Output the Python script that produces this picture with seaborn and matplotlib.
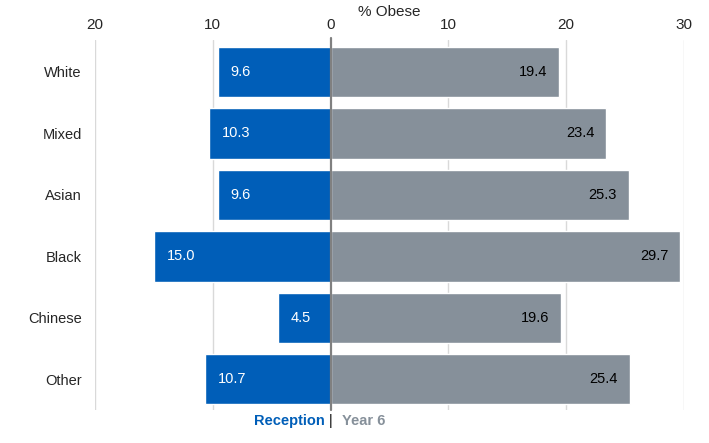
import numpy as np
import pandas as pd
import seaborn as sns
import matplotlib

matplotlib.use('Agg')
import matplotlib.pyplot as plt

groups = ['White', 'Mixed', 'Asian', 'Black', 'Chinese', 'Other']
reception = [9.6, 10.3, 9.6, 15.0, 4.5, 10.7]
year6 = [19.4, 23.4, 25.3, 29.7, 19.6, 25.4]
ticks = [-20, -10, 0, 10, 20, 30]

blue = '#005EB8'
grey = '#86909A'

sns.set_style('white')
plt.rcParams['font.family'] = ['Liberation Sans', 'DejaVu Sans']

df = pd.DataFrame({'group': groups,
                   'reception': [-v for v in reception],
                   'year6': year6})

fig = plt.figure(figsize=(7.09, 4.43), dpi=100)
ax = fig.add_axes([95 / 709, 1 - 410 / 443, (684 - 95) / 709, 370 / 443])

for x in ticks:
    if x != 0:
        ax.axvline(x, color='#d9d9d9', lw=1, zorder=0)

sns.barplot(data=df, y='group', x='reception', color=blue, width=0.82,
            saturation=1, ax=ax, zorder=2)
sns.barplot(data=df, y='group', x='year6', color=grey, width=0.82,
            saturation=1, ax=ax, zorder=2)

ax.axvline(0, color='#808080', lw=1.6, zorder=3, ymin=0, ymax=1.005, clip_on=False)

for i, (r, y) in enumerate(zip(reception, year6)):
    ax.annotate(f'{r:.1f}', xy=(-r, i), xytext=(13, 0), textcoords='offset pixels',
                ha='left', va='center', color='white', fontsize=10.5)
    ax.annotate(f'{y:.1f}', xy=(y, i), xytext=(-12, 0), textcoords='offset pixels',
                ha='right', va='center', color='black', fontsize=10.5)

ax.set_xlim(-20, 30)
ax.set_ylim(5.5, -0.52)
ax.set_xticks(ticks)
ax.set_xticklabels([str(abs(t)) for t in ticks], fontsize=11)
ax.xaxis.tick_top()
ax.xaxis.set_label_position('top')
ax.set_xlabel('% Obese', fontsize=11, labelpad=1)
ax.set_ylabel('')
ax.tick_params(axis='x', length=0, pad=6)
ax.tick_params(axis='y', length=0, pad=9.5, labelsize=10.5)
for s in ax.spines.values():
    s.set_visible(False)

fig.text(325 / 709, 1 - 421 / 443, 'Reception', color=blue, fontweight='bold',
         fontsize=10.5, ha='right', va='center')
fig.text(331 / 709, 1 - 421 / 443, '|', color='black', fontsize=10.5,
         ha='center', va='center')
fig.text(342 / 709, 1 - 421 / 443, 'Year 6', color=grey, fontweight='bold',
         fontsize=10.5, ha='left', va='center')

fig.savefig('out.png', dpi=100)
